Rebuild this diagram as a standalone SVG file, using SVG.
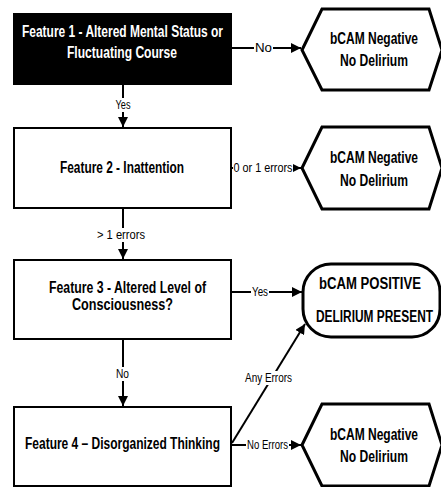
<svg xmlns="http://www.w3.org/2000/svg" width="441" height="487" viewBox="0 0 441 487">
<style>
.box{fill:#fff;stroke:#000;stroke-width:2}
.term{fill:#fff;stroke:#000;stroke-width:3;stroke-linejoin:miter}
.t{font-family:"Liberation Sans",Arial,sans-serif;font-weight:bold;font-size:16px;text-anchor:middle;fill:#000}
.w{fill:#fff}
.lbl{font-family:"Liberation Sans",Arial,sans-serif;font-size:12px;text-anchor:middle;fill:#000}
.c{stroke:#000;stroke-width:2;fill:none}
.bg{fill:#fff}
</style>
<defs>
<marker id="ah" viewBox="0 0 10 10" refX="10" refY="5" markerWidth="5" markerHeight="5" orient="auto" markerUnits="strokeWidth">
<path d="M0,0 L10,5 L0,10 Z" fill="#000"/>
</marker>
</defs>
<g id="connectors">
<line class="c" x1="231" y1="48" x2="301" y2="48" marker-end="url(#ah)"/>
<rect class="bg" x="254" y="41" width="19" height="13"/>
<text class="lbl" x="263.5" y="52" textLength="17" lengthAdjust="spacingAndGlyphs">No</text>
<line class="c" x1="123" y1="84" x2="123" y2="127" marker-end="url(#ah)"/>
<rect class="bg" x="113" y="98" width="20" height="14"/>
<text class="lbl" x="123" y="109" textLength="15" lengthAdjust="spacingAndGlyphs">Yes</text>
<line class="c" x1="231" y1="168" x2="301" y2="168" marker-end="url(#ah)"/>
<rect class="bg" x="233" y="161" width="60" height="14"/>
<text class="lbl" x="263" y="172" textLength="59" lengthAdjust="spacingAndGlyphs">0 or 1 errors</text>
<line class="c" x1="123" y1="208" x2="123" y2="259" marker-end="url(#ah)"/>
<rect class="bg" x="96" y="228" width="51" height="14"/>
<text class="lbl" x="121" y="239" textLength="48" lengthAdjust="spacingAndGlyphs">&gt; 1 errors</text>
<line class="c" x1="231" y1="292" x2="302" y2="292" marker-end="url(#ah)"/>
<rect class="bg" x="251" y="285" width="18" height="14"/>
<text class="lbl" x="260" y="296" textLength="16" lengthAdjust="spacingAndGlyphs">Yes</text>
<line class="c" x1="123" y1="339" x2="123" y2="406" marker-end="url(#ah)"/>
<rect class="bg" x="115" y="367" width="16" height="14"/>
<text class="lbl" x="122.5" y="378" textLength="13" lengthAdjust="spacingAndGlyphs">No</text>
<line class="c" x1="232" y1="443" x2="305" y2="324" marker-end="url(#ah)"/>
<rect class="bg" x="244" y="371" width="49" height="14"/>
<text class="lbl" x="268.5" y="382" textLength="47" lengthAdjust="spacingAndGlyphs">Any Errors</text>
<line class="c" x1="231" y1="445" x2="301" y2="445" marker-end="url(#ah)"/>
<rect class="bg" x="246" y="438" width="43" height="14"/>
<text class="lbl" x="267.5" y="449" textLength="41" lengthAdjust="spacingAndGlyphs">No Errors</text>
</g>
<g id="feature1">
<rect x="14" y="14" width="217" height="70" fill="#000" stroke="#000" stroke-width="2"/>
<text class="t w" x="122.5" y="37" textLength="201" lengthAdjust="spacingAndGlyphs">Feature 1 - Altered Mental Status or</text>
<text class="t w" x="122" y="58" textLength="110" lengthAdjust="spacingAndGlyphs">Fluctuating Course</text>
</g>
<g id="neg1">
<polygon class="term" points="302,50 322,9 429,9 442,50 429,90 322,90"/>
<text class="t" x="374" y="44" textLength="88" lengthAdjust="spacingAndGlyphs">bCAM Negative</text>
<text class="t" x="374" y="66" textLength="68" lengthAdjust="spacingAndGlyphs">No Delirium</text>
</g>
<g id="feature2">
<rect class="box" x="14" y="128" width="217" height="80"/>
<text class="t" x="122" y="173" textLength="124" lengthAdjust="spacingAndGlyphs">Feature 2 - Inattention</text>
</g>
<g id="neg2">
<polygon class="term" points="302,168 322,127 429,127 442,168 429,209 322,209"/>
<text class="t" x="374" y="163" textLength="88" lengthAdjust="spacingAndGlyphs">bCAM Negative</text>
<text class="t" x="374" y="186" textLength="68" lengthAdjust="spacingAndGlyphs">No Delirium</text>
</g>
<g id="feature3">
<rect class="box" x="14" y="260" width="217" height="79"/>
<text class="t" x="127.5" y="293" textLength="157" lengthAdjust="spacingAndGlyphs">Feature 3 - Altered Level of</text>
<text class="t" x="122.5" y="310" textLength="101" lengthAdjust="spacingAndGlyphs">Consciousness?</text>
</g>
<g id="positive">
<rect class="term" x="303" y="264" width="137" height="73" rx="28" ry="28"/>
<text class="t" x="370" y="289" textLength="102" lengthAdjust="spacingAndGlyphs">bCAM POSITIVE</text>
<text class="t" x="374.5" y="322" textLength="117" lengthAdjust="spacingAndGlyphs">DELIRIUM PRESENT</text>
</g>
<g id="feature4">
<rect class="box" x="14" y="407" width="217" height="79"/>
<text class="t" x="122.5" y="449" textLength="195" lengthAdjust="spacingAndGlyphs">Feature 4 – Disorganized Thinking</text>
</g>
<g id="neg3">
<polygon class="term" points="302,445 322,404 429,404 442,445 429,486 322,486"/>
<text class="t" x="374" y="440" textLength="88" lengthAdjust="spacingAndGlyphs">bCAM Negative</text>
<text class="t" x="374" y="462" textLength="68" lengthAdjust="spacingAndGlyphs">No Delirium</text>
</g>
</svg>
